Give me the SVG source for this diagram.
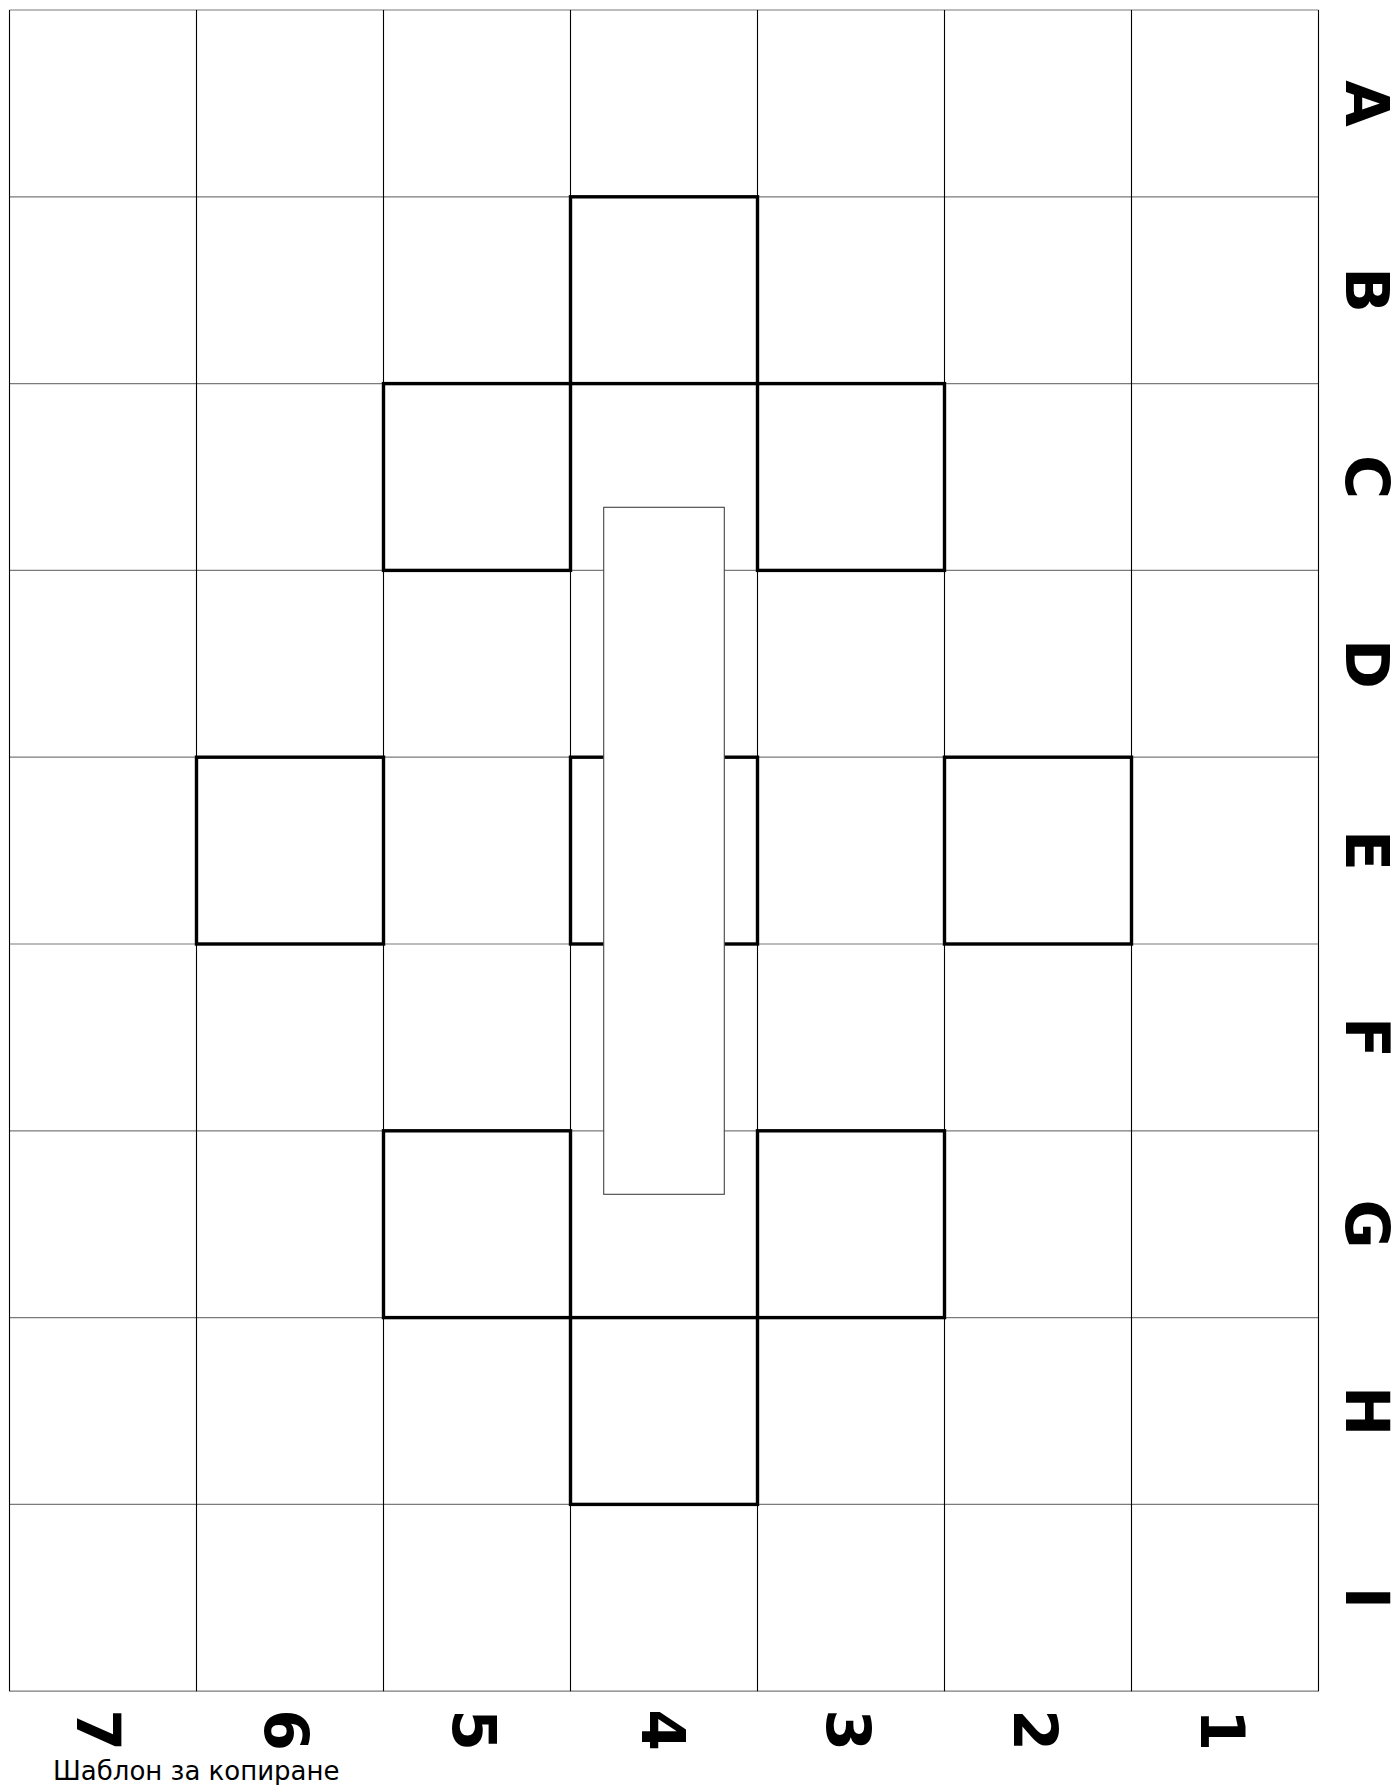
<svg xmlns="http://www.w3.org/2000/svg" width="1394" height="1785" viewBox="0 0 1394 1785">
<style>
.h{stroke:#7a7a7a;stroke-width:1.2;fill:none}
.v{stroke:#000;stroke-width:1.1;fill:none}
.sq{stroke:#000;stroke-width:3.4;fill:none}
.lbl{font-family:"DejaVu Sans",Verdana,sans-serif;font-weight:bold;font-size:60px;fill:#000;text-anchor:middle}
.cap{font-family:"DejaVu Sans",Verdana,sans-serif;font-size:26px;fill:#000}
</style>
<rect x="0" y="0" width="1394" height="1785" fill="#fff"/>
<g id="grid">
<g class="h">
<line x1="9.5" y1="10" x2="1318.5" y2="10"/>
<line x1="9.5" y1="196.8" x2="1318.5" y2="196.8"/>
<line x1="9.5" y1="383.6" x2="1318.5" y2="383.6"/>
<line x1="9.5" y1="570.4" x2="1318.5" y2="570.4"/>
<line x1="9.5" y1="757.2" x2="1318.5" y2="757.2"/>
<line x1="9.5" y1="944" x2="1318.5" y2="944"/>
<line x1="9.5" y1="1130.8" x2="1318.5" y2="1130.8"/>
<line x1="9.5" y1="1317.6" x2="1318.5" y2="1317.6"/>
<line x1="9.5" y1="1504.4" x2="1318.5" y2="1504.4"/>
<line x1="9.5" y1="1691.2" x2="1318.5" y2="1691.2"/>
</g>
<g class="v">
<line x1="9.5" y1="10" x2="9.5" y2="1691.2"/>
<line x1="196.5" y1="10" x2="196.5" y2="1691.2"/>
<line x1="383.5" y1="10" x2="383.5" y2="1691.2"/>
<line x1="570.5" y1="10" x2="570.5" y2="1691.2"/>
<line x1="757.5" y1="10" x2="757.5" y2="1691.2"/>
<line x1="944.5" y1="10" x2="944.5" y2="1691.2"/>
<line x1="1131.5" y1="10" x2="1131.5" y2="1691.2"/>
<line x1="1318.5" y1="10" x2="1318.5" y2="1691.2"/>
</g>
</g>
<g id="squares">
<rect id="B4" class="sq" x="570.5" y="196.8" width="187" height="186.8"/>
<rect id="C5" class="sq" x="383.5" y="383.6" width="187" height="186.8"/>
<rect id="C3" class="sq" x="757.5" y="383.6" width="187" height="186.8"/>
<rect id="E6" class="sq" x="196.5" y="757.2" width="187" height="186.8"/>
<rect id="E4" class="sq" x="570.5" y="757.2" width="187" height="186.8"/>
<rect id="E2" class="sq" x="944.5" y="757.2" width="187" height="186.8"/>
<rect id="G5" class="sq" x="383.5" y="1130.8" width="187" height="186.8"/>
<rect id="G3" class="sq" x="757.5" y="1130.8" width="187" height="186.8"/>
<rect id="H4" class="sq" x="570.5" y="1317.6" width="187" height="186.8"/>
</g>
<g id="bar">
<rect x="603.7" y="507.3" width="120.6" height="687" fill="#fff" stroke="#444" stroke-width="1.1"/>
</g>
<g id="row-labels">
<text class="lbl" transform="translate(1368,103.4) rotate(90)" x="0" y="22">A</text>
<text class="lbl" transform="translate(1368,290.2) rotate(90)" x="0" y="22">B</text>
<text class="lbl" transform="translate(1368,477) rotate(90)" x="0" y="22">C</text>
<text class="lbl" transform="translate(1368,663.8) rotate(90)" x="0" y="22">D</text>
<text class="lbl" transform="translate(1368,850.6) rotate(90)" x="0" y="22">E</text>
<text class="lbl" transform="translate(1368,1037.4) rotate(90)" x="0" y="22">F</text>
<text class="lbl" transform="translate(1368,1224.2) rotate(90)" x="0" y="22">G</text>
<text class="lbl" transform="translate(1368,1411) rotate(90)" x="0" y="22">H</text>
<text class="lbl" transform="translate(1368,1597.8) rotate(90)" x="0" y="22">I</text>
</g>
<g id="col-labels">
<text class="lbl" transform="translate(99,1730) rotate(90)" x="0" y="22">7</text>
<text class="lbl" transform="translate(287,1730) rotate(90)" x="0" y="22">6</text>
<text class="lbl" transform="translate(475,1730) rotate(90)" x="0" y="22">5</text>
<text class="lbl" transform="translate(664,1730) rotate(90)" x="0" y="22">4</text>
<text class="lbl" transform="translate(849,1730) rotate(90)" x="0" y="22">3</text>
<text class="lbl" transform="translate(1036,1730) rotate(90)" x="0" y="22">2</text>
<text class="lbl" transform="translate(1223,1730) rotate(90)" x="0" y="22">1</text>
</g>
<text class="cap" x="53" y="1780">Шаблон за копиране</text>
</svg>
